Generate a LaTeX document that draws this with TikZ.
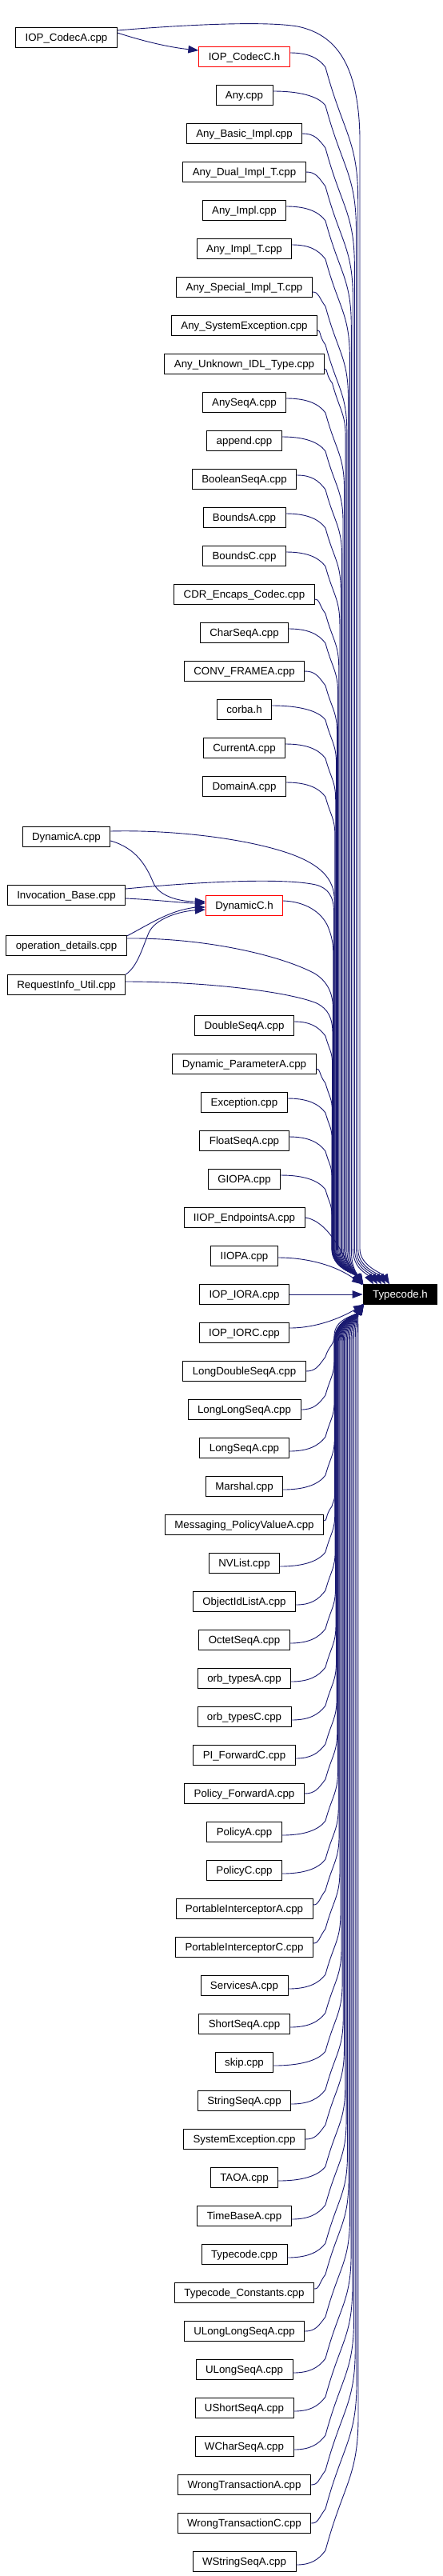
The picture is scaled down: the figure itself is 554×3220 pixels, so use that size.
\documentclass[tikz,border=0pt]{standalone}
\usepackage{fontspec}
\setmainfont{Liberation Sans}
\usetikzlibrary{arrows.meta}
\definecolor{edgecol}{RGB}{25,25,112}
\tikzset{
  box/.style={draw=black, line width=0.8pt, fill=white, inner xsep=12pt, inner ysep=5pt,
    text height=12pt, text depth=3pt, font=\fontsize{13.3pt}{15pt}\selectfont},
  redbox/.style={box, draw=red},
  focusbox/.style={box, fill=black, text=white},
  edge/.style={draw=edgecol, line width=0.9pt, -{Triangle[length=13pt,width=9.5pt]}},
}
% edge from a node above Typecode.h: #1 node, #2 lane x, #3 end x
\newcommand\edgeup[3]{%
  \pgfpointanchor{#1}{east}\pgfgetlastxy{\qtx}{\qty}%
  \pgfmathsetmacro\qxs{\qtx}%
  \pgfmathsetmacro\qys{-\qty+((\qxs<375)?(-5):((\qxs<390)?0:6))}%
  \pgfmathsetmacro\qbx{max(407,\qxs+10)}%
  \pgfmathsetmacro\qby{\qys+18}%
  \pgfmathsetmacro\qcax{\qxs+0.5*(\qbx-\qxs)}%
  \pgfmathsetmacro\qcbx{\qbx-9}\pgfmathsetmacro\qcby{\qys+6}%
  \pgfmathsetmacro\qr{min((#2-\qbx)/0.27*1.1,0.4*(1605.5-\qby))}%
  \pgfmathsetmacro\qdax{\qbx+0.135*\qr}\pgfmathsetmacro\qday{\qby+0.5*\qr}%
  \pgfmathsetmacro\qdby{\qby+0.55*\qr}\pgfmathsetmacro\qmy{\qby+\qr}%
  \pgfmathsetmacro\qny{max(\qmy,1561)}%
  \pgfmathsetmacro\qfy{1605.5-0.45*(1605.5-\qny)}%
  \pgfmathsetmacro\qex{#3-8}%
  \draw[edge] (\qxs,\qys) .. controls (\qcax,\qys) and (\qcbx,\qcby) .. (\qbx,\qby)
     .. controls (\qdax,\qday) and (#2,\qdby) .. (#2,\qmy) -- (#2,\qny)
     .. controls (#2,\qfy) and (\qex,1592) .. (#3,1605.5);
}
% edge from a node below Typecode.h
\newcommand\edgedown[3]{%
  \pgfpointanchor{#1}{east}\pgfgetlastxy{\qtx}{\qty}%
  \pgfmathsetmacro\qxs{\qtx}%
  \pgfmathsetmacro\qys{-\qty+((\qxs<375)?4:((\qxs<390)?0:(-5)))}%
  \pgfmathsetmacro\qbx{max(407,\qxs+10)}%
  \pgfmathsetmacro\qby{\qys-18}%
  \pgfmathsetmacro\qcax{\qxs+0.5*(\qbx-\qxs)}%
  \pgfmathsetmacro\qcbx{\qbx-9}\pgfmathsetmacro\qcby{\qys-6}%
  \pgfmathsetmacro\qr{min((#2-\qbx)/0.27*1.1,0.4*(\qby-1630.5))}%
  \pgfmathsetmacro\qdax{\qbx+0.135*\qr}\pgfmathsetmacro\qday{\qby-0.5*\qr}%
  \pgfmathsetmacro\qdby{\qby-0.55*\qr}\pgfmathsetmacro\qmy{\qby-\qr}%
  \pgfmathsetmacro\qny{min(\qmy,1676)}%
  \pgfmathsetmacro\qfy{1630.5+0.45*(\qny-1630.5)}%
  \pgfmathsetmacro\qex{#3-8}%
  \draw[edge] (\qxs,\qys) .. controls (\qcax,\qys) and (\qcbx,\qcby) .. (\qbx,\qby)
     .. controls (\qdax,\qday) and (#2,\qdby) .. (#2,\qmy) -- (#2,\qny)
     .. controls (#2,\qfy) and (\qex,1644) .. (#3,1630.5);
}
\begin{document}
\begin{tikzpicture}[x=1pt,y=-1pt]
\useasboundingbox (0,0) rectangle (554,3220);
\fill[white] (0,0) rectangle (554,3220);

% target
\node[focusbox] (tc) at (500.5,1618) {Typecode.h};

% left column
\node[box] (codA) at (83,47) {IOP\_CodecA.cpp};
\node[box] (dynA) at (83,1046) {DynamicA.cpp};
\node[box] (inv) at (83,1119) {Invocation\_Base.cpp};
\node[box] (op) at (83,1182) {operation\_details.cpp};
\node[box] (req) at (83,1231) {RequestInfo\_Util.cpp};

% red headers
\node[redbox] (u1) at (305.5,71) {IOP\_CodecC.h};
\node[redbox] (dynC) at (305.5,1132) {DynamicC.h};

% explicit edges of the left column
\draw[edge] ([yshift=6pt]codA.east) .. controls (190,55) and (220,60) .. ([yshift=8pt]u1.west);
\draw[edge] ([yshift=9pt]codA.east) .. controls (230,31) and (330,26) .. (372,33)
   .. controls (420,43) and (448,80) .. (450,170) -- (450,1561)
   .. controls (450,1583) and (479,1592) .. (487,1605.5);

\draw[edge] ([yshift=-5pt]dynA.east) .. controls (170,1060) and (183,1082) .. (192,1104)
   .. controls (200,1122) and (228,1127) .. ([yshift=5pt]dynC.west);
\draw[edge] ([yshift=7pt]dynA.east) .. controls (215,1037) and (310,1048) .. (365,1068)
   .. controls (400,1081) and (418.2,1098) .. (418.2,1125) -- (418.2,1561)
   .. controls (418.2,1583) and (444,1592) .. (452.3,1605.5);

\draw[edge] ([yshift=-4pt]inv.east) .. controls (200,1125) and (230,1129) .. ([yshift=3pt]dynC.west);
\draw[edge] ([yshift=8pt]inv.east) .. controls (250,1102) and (355,1097) .. (395,1106)
   .. controls (410,1110) and (417.5,1120) .. (417.5,1140) -- (417.5,1561)
   .. controls (417.5,1583) and (444,1592) .. (452.2,1605.5);

\draw[edge] ([yshift=6pt]dynC.east) .. controls (382,1127) and (402,1140) .. (410,1158)
   .. controls (415,1170) and (416.9,1180) .. (416.9,1195) -- (416.9,1561)
   .. controls (416.9,1583) and (444,1592) .. (452.2,1605.5);

\draw[edge] ([yshift=12pt]op.east) .. controls (178,1160) and (200,1146) .. (222,1139)
   .. controls (235,1135) and (246,1134) .. ([yshift=-2pt]dynC.west);
\draw[edge] ([yshift=9pt]op.east) .. controls (250,1172) and (345,1192) .. (392,1216)
   .. controls (408,1225) and (416.4,1240) .. (416.4,1260) -- (416.4,1561)
   .. controls (416.4,1583) and (444,1592) .. (452.1,1605.5);

\draw[edge] (req.north east) .. controls (172,1208) and (178,1185) .. (186,1166)
   .. controls (194,1148) and (225,1139) .. ([yshift=-5pt]dynC.west);
\draw[edge] ([yshift=4pt]req.east) .. controls (260,1227) and (362,1240) .. (396,1254)
   .. controls (410,1261) and (416,1272) .. (416,1292) -- (416,1561)
   .. controls (416,1583) and (444,1592) .. (452.1,1605.5);

% IOP_CodecC.h -> Typecode.h
\edgeup{u1}{447.7}{482}

% main column, upper block 1
\foreach \lab [count=\kk from 2] in {Any.cpp, Any\_Basic\_Impl.cpp, Any\_Dual\_Impl\_T.cpp,
  Any\_Impl.cpp, Any\_Impl\_T.cpp, Any\_Special\_Impl\_T.cpp, Any\_SystemException.cpp,
  Any\_Unknown\_IDL\_Type.cpp, AnySeqA.cpp, append.cpp, BooleanSeqA.cpp, BoundsA.cpp,
  BoundsC.cpp, CDR\_Encaps\_Codec.cpp, CharSeqA.cpp, CONV\_FRAMEA.cpp, corba.h,
  CurrentA.cpp, DomainA.cpp}{
  \pgfmathsetmacro\nodey{71+48*(\kk-1)}
  \node[box] (u\kk) at (305.5,\nodey) {\lab};
  \pgfmathsetmacro\lt{(30-\kk)/30}
  \pgfmathsetmacro\lanex{415+35*\lt*\lt}
  \pgfmathsetmacro\endx{(\kk<5)?(487-5*\kk):(452+0.1*(\lanex-415))}
  \edgeup{u\kk}{\lanex}{\endx}
}

% main column, upper block 2
\foreach \lab [count=\kk from 26] in {DoubleSeqA.cpp, Dynamic\_ParameterA.cpp, Exception.cpp,
  FloatSeqA.cpp, GIOPA.cpp}{
  \pgfmathsetmacro\nodey{1282+48*(\kk-26)}
  \node[box] (v\kk) at (305.5,\nodey) {\lab};
  \pgfmathsetmacro\lt{(30-\kk)/30}
  \pgfmathsetmacro\lanex{415+35*\lt*\lt}
  \pgfmathsetmacro\endx{452+0.1*(\lanex-415)}
  \edgeup{v\kk}{\lanex}{\endx}
}

% nodes next to Typecode.h
\node[box] (iiopE) at (305.5,1522) {IIOP\_EndpointsA.cpp};
\node[box] (iiopa) at (305.5,1570) {IIOPA.cpp};
\node[box] (iora) at (305.5,1618) {IOP\_IORA.cpp};
\node[box] (iorc) at (305.5,1666) {IOP\_IORC.cpp};

\draw[edge] (iiopE.east) .. controls (398,1524) and (412,1540) .. (422,1556)
   .. controls (432,1572) and (442,1592) .. (452.5,1605.5);
\draw[edge] ([yshift=-2pt]iiopa.east) .. controls (385,1572) and (420,1582) .. (453,1605.5);
\draw[edge] (iora.east) -- (tc.west);
\draw[edge] ([yshift=6pt]iorc.east) .. controls (395,1660) and (425,1648) .. (455,1630.5);

% main column, lower block
\foreach \lab [count=\jj from 0] in {LongDoubleSeqA.cpp, LongLongSeqA.cpp, LongSeqA.cpp,
  Marshal.cpp, Messaging\_PolicyValueA.cpp, NVList.cpp, ObjectIdListA.cpp, OctetSeqA.cpp,
  orb\_typesA.cpp, orb\_typesC.cpp, PI\_ForwardC.cpp, Policy\_ForwardA.cpp, PolicyA.cpp,
  PolicyC.cpp, PortableInterceptorA.cpp, PortableInterceptorC.cpp, ServicesA.cpp,
  ShortSeqA.cpp, skip.cpp, StringSeqA.cpp, SystemException.cpp, TAOA.cpp, TimeBaseA.cpp,
  Typecode.cpp, Typecode\_Constants.cpp, ULongLongSeqA.cpp, ULongSeqA.cpp, UShortSeqA.cpp,
  WCharSeqA.cpp, WrongTransactionA.cpp, WrongTransactionC.cpp, WStringSeqA.cpp}{
  \pgfmathsetmacro\nodey{1714+48*\jj}
  \node[box] (w\jj) at (305.5,\nodey) {\lab};
  \pgfmathsetmacro\lt{\jj/31}
  \pgfmathsetmacro\lanex{418+30*\lt*\lt}
  \pgfmathsetmacro\endx{453+0.07*(\lanex-418)}
  \edgedown{w\jj}{\lanex}{\endx}
}
\end{tikzpicture}
\end{document}
